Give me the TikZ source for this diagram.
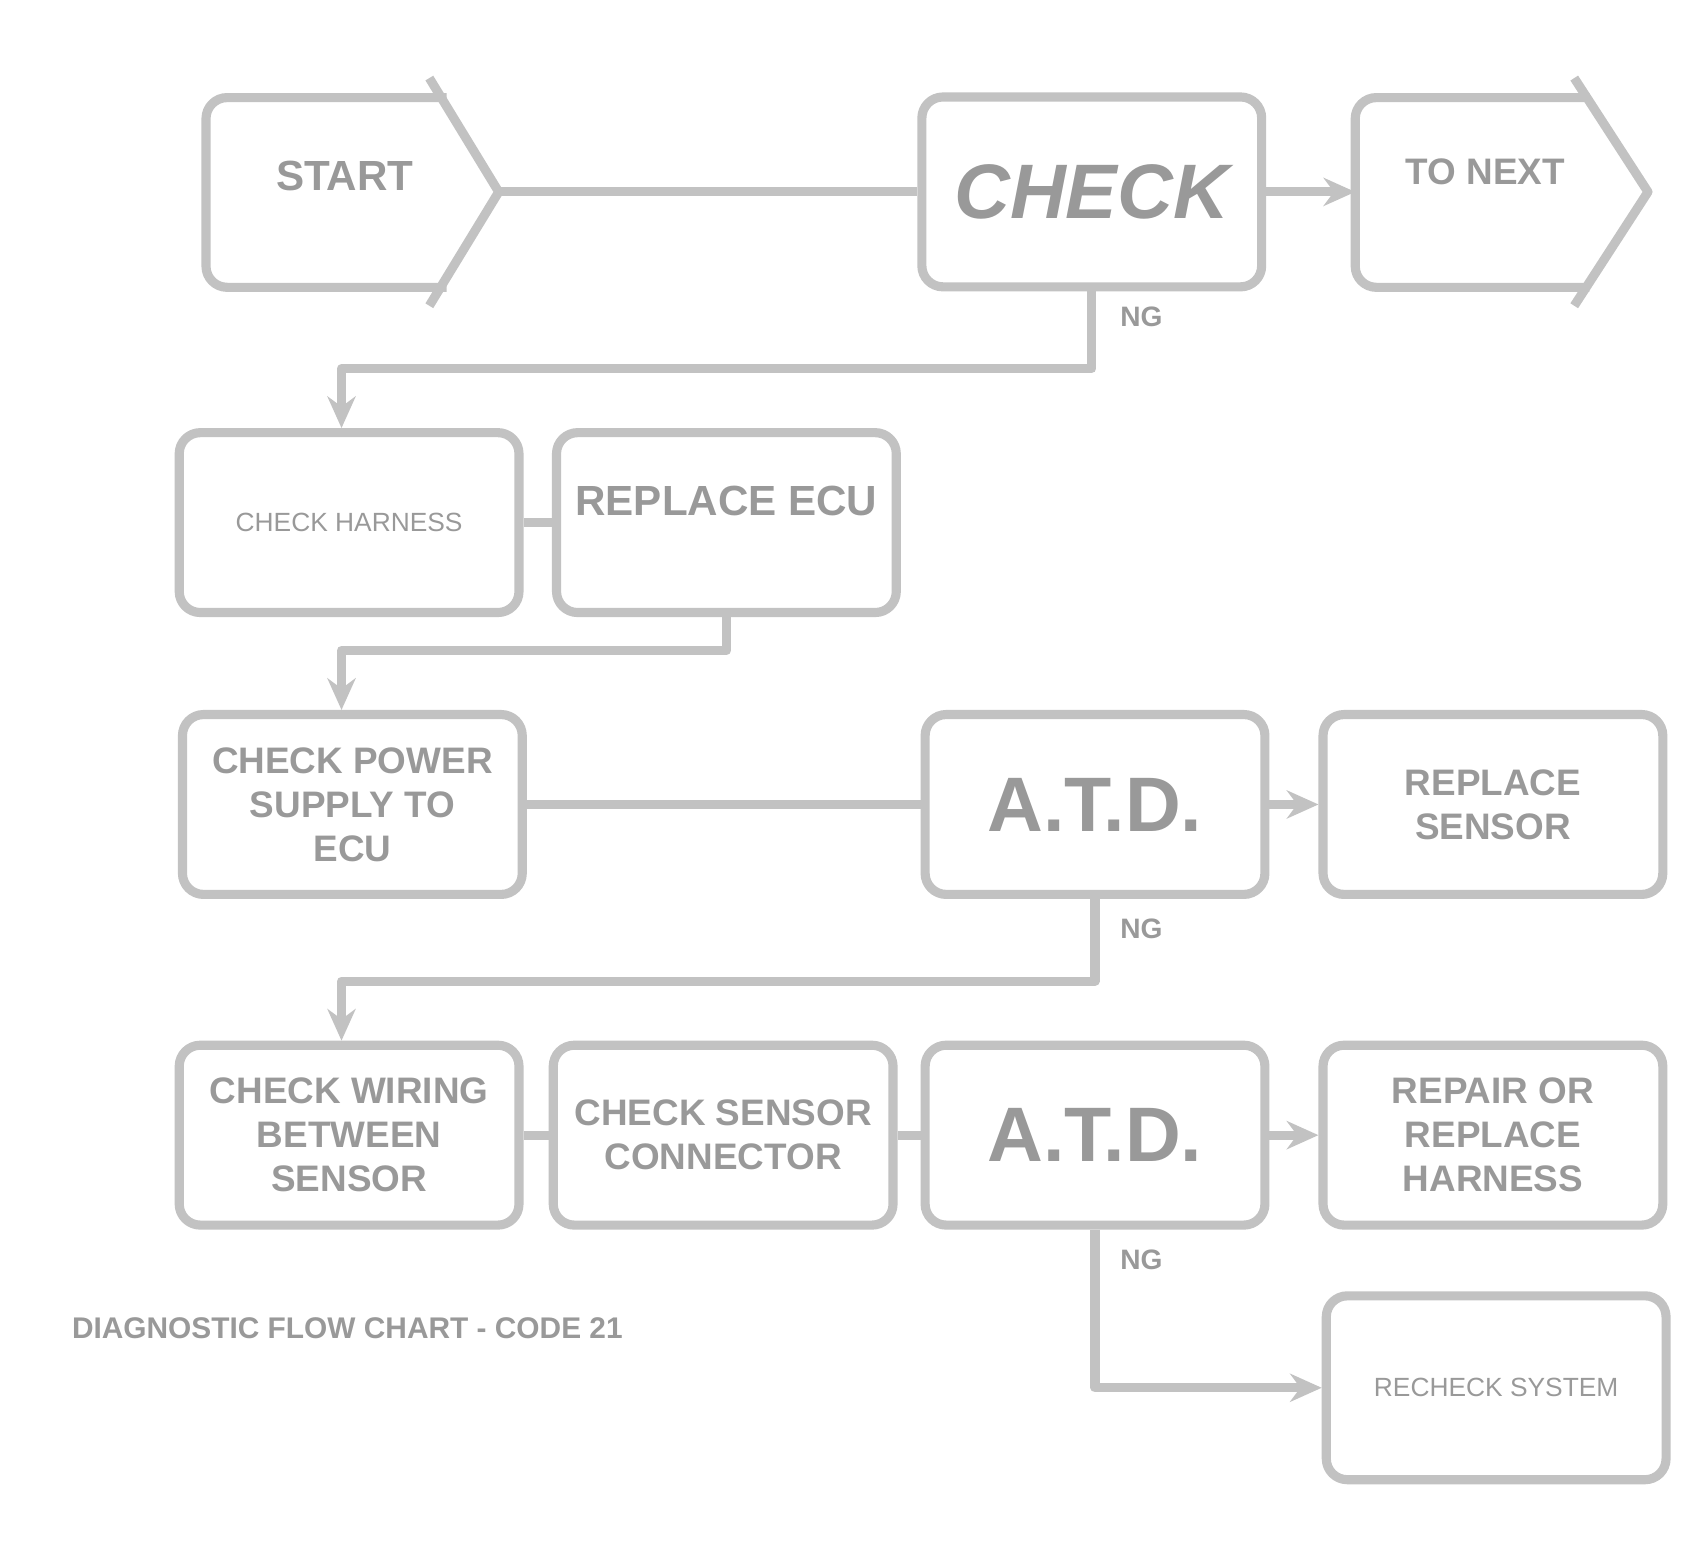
\documentclass[tikz,border=0pt]{standalone}
\usepackage{fontspec}
\setmainfont{Liberation Sans}
\usetikzlibrary{arrows.meta}
\definecolor{lc}{gray}{0.76}
\definecolor{tc}{gray}{0.60}
\begin{document}
\begin{tikzpicture}[x=0.010846cm,y=-0.010846cm,line join=round]
\tikzset{
  ln/.style={draw=lc,line width=2.6pt},
  arr/.style={ln,-{Stealth[length=9pt,width=8pt]}},
  bx/.style={ln,rounded corners=6pt,minimum width=3.40cm,minimum height=1.80cm,inner sep=2pt,align=center,text=tc},
  txt/.style={align=center,text=tc},
  big/.style={font=\fontsize{22}{24}\selectfont\bfseries},
  med/.style={font=\fontsize{10.5}{12.5}\selectfont\bfseries},
  sml/.style={font=\fontsize{7.5}{9}\selectfont},
  lab/.style={text=tc,font=\fontsize{8}{9}\selectfont\bfseries}
}
\useasboundingbox (0,0) rectangle (1568,1435);

% row 1
\node[txt,med,font=\fontsize{12}{13}\selectfont\bfseries] (n1) at (318,162) {START};
\draw[ln,rounded corners=6pt] (412,90) -- (190,90) -- (190,265) -- (412,265);
\draw[ln] (396,72) -- (460,177) -- (396,282);
\coordinate (n1tip) at (460,177);

\node[bx,big,minimum height=1.90cm,font=\fontsize{22}{24}\selectfont\bfseries\itshape] (n2) at (1007,177) {CHECK};

\node[txt,med] (n3) at (1370,158) {TO NEXT};
\draw[ln,rounded corners=6pt] (1466,90) -- (1250,90) -- (1250,265) -- (1466,265);
\draw[ln] (1452,72) -- (1520,177) -- (1452,282);
\coordinate (n3l) at (1250,177);

% row 2
\node[bx,sml] (n4) at (322,482) {CHECK HARNESS};
\node[bx,font=\fontsize{12}{14}\selectfont\bfseries] (n5) at (670,482) {\raisebox{2pt}[0pt][0pt]{REPLACE ECU}};

% row 3
\node[bx,med] (n6) at (325,742) {CHECK POWER\\SUPPLY TO\\ECU};
\node[bx,big] (n7) at (1010,742) {A.T.D.};
\node[bx,med] (n8) at (1377,742) {REPLACE\\SENSOR};

% row 4
\node[bx,med] (n9) at (322,1047) {CHECK WIRING\\BETWEEN\\SENSOR};
\node[bx,med] (n10) at (667,1047) {CHECK SENSOR\\CONNECTOR};
\node[bx,big] (n11) at (1010,1047) {A.T.D.};
\node[bx,med] (n12) at (1377,1047) {REPAIR OR\\REPLACE\\HARNESS};

% row 5
\node[bx,sml,minimum height=1.84cm] (n13) at (1380,1280) {RECHECK SYSTEM};

% caption
\node[lab,anchor=west,font=\fontsize{8.5}{10}\selectfont\bfseries] (cap) at (55,1225) {DIAGNOSTIC FLOW CHART - CODE 21};

% connectors
\draw[ln] (n1tip) -- (n2.west);
\draw[arr] (n2.east) -- (n3l);
\coordinate (j1) at (315,340);
\draw[arr] (n2.south) |- (j1) -- (j1 |- n4.north);
\node[lab,anchor=west] (l1) at (1022,292) {NG};
\draw[ln] (n4.east) -- (n4.east -| n5.west);
\coordinate (j2) at (315,600);
\draw[arr] (n5.south) |- (j2) -- (j2 |- n6.north);
\draw[ln] (n6.east) -- (n7.west);
\draw[arr] (n7.east) -- (n8.west);
\coordinate (j3) at (315,905);
\draw[arr] (n7.south) |- (j3) -- (j3 |- n9.north);
\node[lab,anchor=west] (l2) at (1022,857) {NG};
\draw[ln] (n9.east) -- (n10.west);
\draw[ln] (n10.east) -- (n11.west);
\draw[arr] (n11.east) -- (n12.west);
\draw[arr] (n11.south) |- (n13.west);
\node[lab,anchor=west] (l3) at (1022,1162) {NG};
\end{tikzpicture}
\end{document}
